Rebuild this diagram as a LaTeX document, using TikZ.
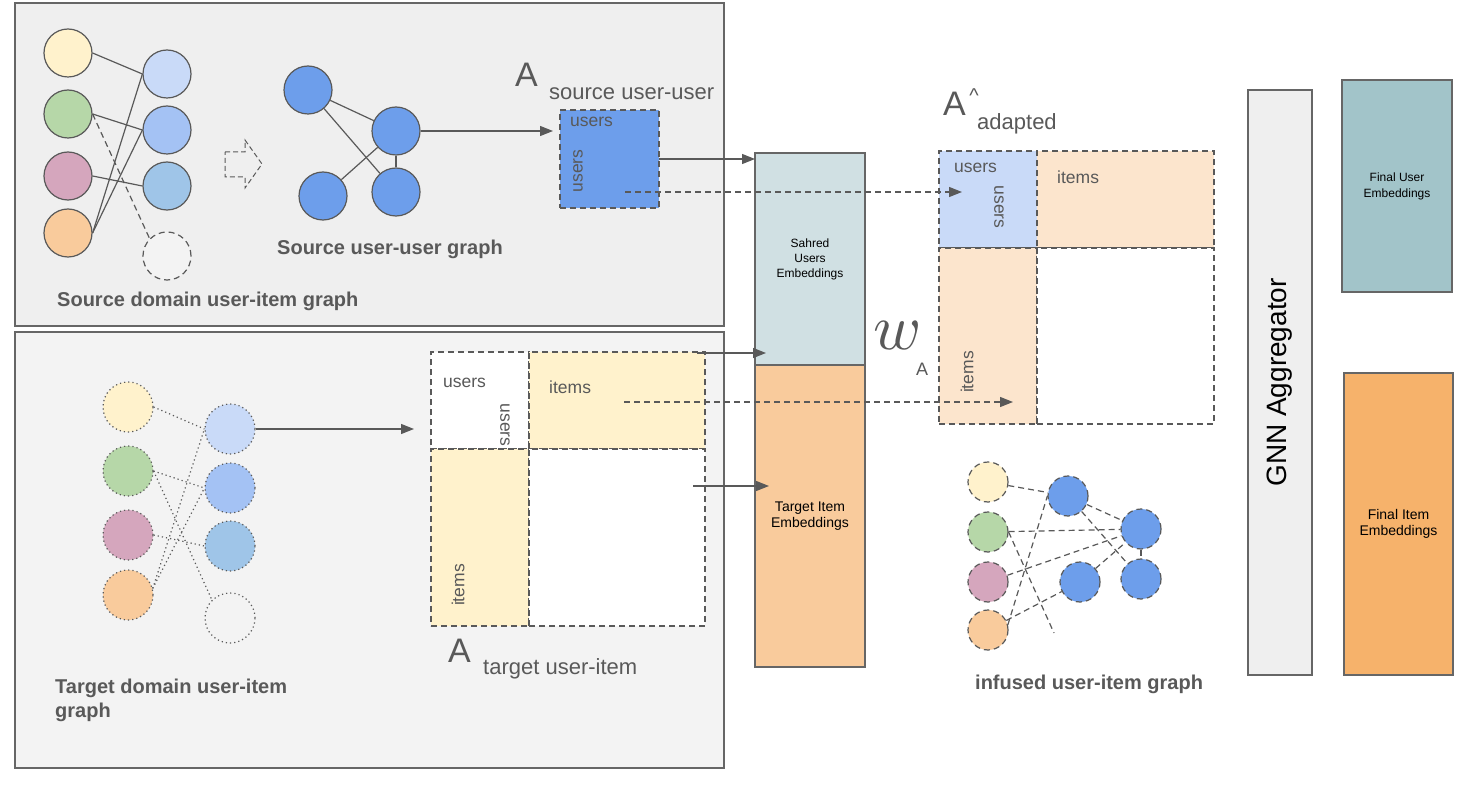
\documentclass[tikz,border=0pt]{standalone}
\usepackage{fontspec}
\setmainfont{Liberation Sans}
\usetikzlibrary{arrows.meta,calc}
\definecolor{lc}{HTML}{595959}
\definecolor{tc}{HTML}{595959}
\definecolor{pc}{HTML}{666666}
\definecolor{yel}{HTML}{FFF2CC}
\definecolor{grn}{HTML}{B6D7A8}
\definecolor{pnk}{HTML}{D5A6BD}
\definecolor{org}{HTML}{F9CB9C}
\definecolor{bla}{HTML}{C9DAF8}
\definecolor{blb}{HTML}{A4C2F4}
\definecolor{blc}{HTML}{9FC5E8}
\definecolor{blu}{HTML}{6D9EEB}
\definecolor{peach}{HTML}{FCE5CD}
\definecolor{shc}{HTML}{D0E0E3}
\definecolor{fuc}{HTML}{A2C4C9}
\definecolor{fic}{HTML}{F6B26B}
\definecolor{gbg}{HTML}{EFEFEF}
\definecolor{tbg}{HTML}{F3F3F3}
\begin{document}
\begin{tikzpicture}[x=1pt,y=-1pt,
  ln/.style={draw=lc, line width=1.2pt},
  dsh/.style={dash pattern=on 6pt off 4pt},
  dtt/.style={dash pattern=on 1.2pt off 3pt},
  arr/.style={ln, -{Triangle[length=13pt,width=10pt]}},
  darr/.style={ln, dsh, -{Triangle[length=13pt,width=10pt]}},
  panel/.style={draw=pc, line width=1.3pt, anchor=north west, inner sep=0pt, outer sep=0pt},
  sn/.style={circle, draw=lc, line width=1.2pt, minimum size=48pt, inner sep=0pt},
  tn/.style={circle, draw=lc, line width=1.2pt, dtt, minimum size=50pt, inner sep=0pt},
  inn/.style={circle, draw=lc, line width=1.2pt, dsh, minimum size=40pt, inner sep=0pt},
  cell/.style={draw=lc, line width=1.2pt, dsh, anchor=north west, inner sep=0pt, outer sep=0pt},
  emb/.style={draw=pc, line width=1.3pt, anchor=north west, inner sep=0pt, outer sep=0pt, align=center, text=black},
  bl/.style={font=\fontsize{20}{24}\selectfont\bfseries, text=tc, anchor=base west, inner sep=0pt},
  big/.style={font=\fontsize{34}{34}\selectfont, text=tc, anchor=base west, inner sep=0pt},
  sub/.style={font=\fontsize{22}{22}\selectfont, text=tc, anchor=base west, inner sep=0pt},
  ml/.style={font=\fontsize{17.5}{17.5}\selectfont, text=tc, anchor=base west, inner sep=0pt},
  mr/.style={font=\fontsize{17.5}{17.5}\selectfont, text=tc, inner sep=0pt}
]
\useasboundingbox (0,0) rectangle (1459,786);
\fill[white] (0,0) rectangle (1459,786);

% panels
\node[panel, fill=gbg, minimum width=709pt, minimum height=323pt] (srcpanel) at (15,3) {};
\node[panel, fill=tbg, minimum width=709pt, minimum height=436pt] (tgtpanel) at (15,332) {};

% source user-item graph
\node[sn, fill=yel] (sy) at (68,53) {};
\node[sn, fill=grn] (sg) at (68,114) {};
\node[sn, fill=pnk] (sp) at (68,176) {};
\node[sn, fill=org] (so) at (68,233) {};
\node[sn, fill=bla] (sb1) at (167,74) {};
\node[sn, fill=blb] (sb2) at (167,130) {};
\node[sn, fill=blc] (sb3) at (167,186) {};
\node[sn, fill=tbg, dsh] (se) at (167,256) {};
\draw[ln] (sy.east) -- (sb1.west);
\draw[ln] (sg.east) -- (sb2.west);
\draw[ln] (sp.east) -- (sb3.west);
\draw[ln] (so.east) -- (sb1.west);
\draw[ln] (so.east) -- (sb2.west);
\draw[ln, dsh] (sg.east) -- (se.north west);
\node[bl] (srclab) at (57,307) {Source domain user-item graph};

% hollow dashed block arrow
\draw[ln, line width=1pt, dash pattern=on 5pt off 3pt] (225,152) -- (245,152) -- (245,140) -- (262,164) -- (245,188) -- (245,177) -- (225,177) -- cycle;

% source user-user graph
\node[sn, fill=blu] (su1) at (308,90) {};
\node[sn, fill=blu] (su2) at (396,131) {};
\node[sn, fill=blu] (su3) at (323,196) {};
\node[sn, fill=blu] (su4) at (396,192) {};
\draw[ln] (su1) -- (su2);
\draw[ln] (su1) -- (su4);
\draw[ln] (su3) -- (su2);
\draw[ln] (su2) -- (su4);
\node[bl] (uulab) at (277,255) {Source user-user graph};

% source matrix
\node[cell, fill=blu, minimum width=99pt, minimum height=98pt] (sm) at (560,110) {};
\node[big] (sA) at (515,87) {A};
\node[sub] (sAsub) at (549,100) {source user-user};
\node[ml] (smu) at (570,127) {users};
\node[mr, rotate=90] (smv) at (578,171) {users};
\draw[arr, shorten >=7pt] (su2.east) -- (su2.east -| sm.west);

% target graph
\node[tn, fill=yel] (ty) at (128,407) {};
\node[tn, fill=grn] (tg) at (128,471) {};
\node[tn, fill=pnk] (tp) at (128,535) {};
\node[tn, fill=org] (to) at (128,595) {};
\node[tn, fill=bla] (tb1) at (230,429) {};
\node[tn, fill=blb] (tb2) at (230,488) {};
\node[tn, fill=blc] (tb3) at (230,546) {};
\node[tn, fill=tbg] (te) at (230,618) {};
\draw[ln, dtt] (ty.east) -- (tb1.west);
\draw[ln, dtt] (tg.east) -- (tb2.west);
\draw[ln, dtt] (tp.east) -- (tb3.west);
\draw[ln, dtt] (to.15) -- (tb1.west);
\draw[ln, dtt] (to.15) -- (tb2.west);
\draw[ln, dtt] (tg.east) -- (te.north west);
\node[bl, align=left, anchor=north west] (tgtlab) at (55,679) {Target domain user-item\\graph};

% target matrix
\node[cell, fill=white, minimum width=98pt, minimum height=97pt] (tTL) at (431,352) {};
\node[cell, fill=yel, minimum width=176pt, minimum height=97pt] (tTR) at (529,352) {};
\node[cell, fill=yel, minimum width=98pt, minimum height=177pt] (tBL) at (431,449) {};
\node[cell, fill=white, minimum width=176pt, minimum height=177pt] (tBR) at (529,449) {};
\node[ml] (tmu) at (443,387) {users};
\node[mr, rotate=-90] (tmv) at (505,425) {users};
\node[ml] (tmi) at (549,393) {items};
\node[mr, rotate=90] (tmiv) at (458,585) {items};
\node[big] (tA) at (448,662) {A};
\node[sub] (tAsub) at (483,674) {target user-item};
\draw[arr, shorten >=17pt] (tb1.east) -- (tb1.east -| tTL.west);

% middle embeddings column
\node[emb, fill=shc, minimum width=110pt, minimum height=212pt, font=\fontsize{12}{15}\selectfont] (shared) at (755,153) {Sahred\\Users\\Embeddings};
\node[emb, fill=org, minimum width=110pt, minimum height=302pt, font=\fontsize{14}{16}\selectfont] (titem) at (755,365) {Target Item\\Embeddings};
\node[inner sep=0pt, text=lc, scale=6.5] (wsym) at (898,336) {$w$};
\node[inner sep=0pt, text=lc, font=\fontsize{18}{18}\selectfont] (wsub) at (922,369) {A};

% adapted matrix
\node[cell, fill=bla, minimum width=98pt, minimum height=97pt] (aTL) at (939,151) {};
\node[cell, fill=peach, minimum width=177pt, minimum height=97pt] (aTR) at (1037,151) {};
\node[cell, fill=peach, minimum width=98pt, minimum height=176pt] (aBL) at (939,248) {};
\node[cell, fill=white, minimum width=177pt, minimum height=176pt] (aBR) at (1037,248) {};
\node[ml] (amu) at (954,173) {users};
\node[mr, rotate=-90] (amv) at (999,207) {users};
\node[ml] (ami) at (1057,184) {items};
\node[mr, rotate=90] (amiv) at (967,372) {items};
\node[big] (aA) at (943,116) {A};
\node[inner sep=0pt, text=tc, font=\fontsize{20}{20}\selectfont] (ahat) at (974,96) {\^{}};
\node[sub] (aAsub) at (977,130) {adapted};

% connectors into the middle column and the adapted matrix
\coordinate (sdash) at (625,192);
\coordinate (adash) at (962,192);
\coordinate (tl1) at (697,353);
\coordinate (tl1e) at (766,353);
\coordinate (tdash) at (624,402);
\coordinate (tdashe) at (1013,402);
\coordinate (tl2) at (693,486);
\coordinate (tl2e) at (769,486);
\draw[arr] (sm.east) -- (sm.east -| shared.west);
\draw[darr] (sdash) -- (adash);
\draw[arr] (tl1) -- (tl1e);
\draw[darr] (tdash) -- (tdashe);
\draw[arr] (tl2) -- (tl2e);

% infused graph
\node[inn, fill=yel] (iy) at (988,482) {};
\node[inn, fill=grn] (ig) at (988,532) {};
\node[inn, fill=pnk] (ip) at (988,582) {};
\node[inn, fill=org] (io) at (988,630) {};
\node[inn, fill=blu] (ib1) at (1068,496) {};
\node[inn, fill=blu] (ib2) at (1141,529) {};
\node[inn, fill=blu] (ib3) at (1080,582) {};
\node[inn, fill=blu] (ib4) at (1141,579) {};
\coordinate (ifree) at (1054,633);
\draw[ln, dsh] (iy) -- (ib1);
\draw[ln, dsh] (ig) -- (ib2);
\draw[ln, dsh] (ip) -- (ib2);
\draw[ln, dsh] (io) -- (ib3);
\draw[ln, dsh] (ib1) -- (ib2);
\draw[ln, dsh] (ib1) -- (ib4);
\draw[ln, dsh] (ib3) -- (ib2);
\draw[ln, dsh] (ib2) -- (ib4);
\draw[ln, dsh] (io.15) -- (ib1.west);
\draw[ln, dsh] (ig.east) -- (ifree);
\node[bl] (inflab) at (975,689) {infused user-item graph};

% right side
\node[emb, fill=gbg, minimum width=64pt, minimum height=585pt] (gnn) at (1248,90) {};
\node[rotate=90, inner sep=0pt, text=black, font=\fontsize{28}{28}\selectfont] (gnnlab) at (gnn.center) {GNN Aggregator};
\node[emb, fill=fuc, minimum width=110pt, minimum height=212pt, font=\fontsize{12}{16}\selectfont] (fue) at (1342,80) {Final User\\Embeddings};
\node[emb, fill=fic, minimum width=109pt, minimum height=302pt, font=\fontsize{14}{16}\selectfont] (fie) at (1344,373) {Final Item\\Embeddings};
\end{tikzpicture}
\end{document}
